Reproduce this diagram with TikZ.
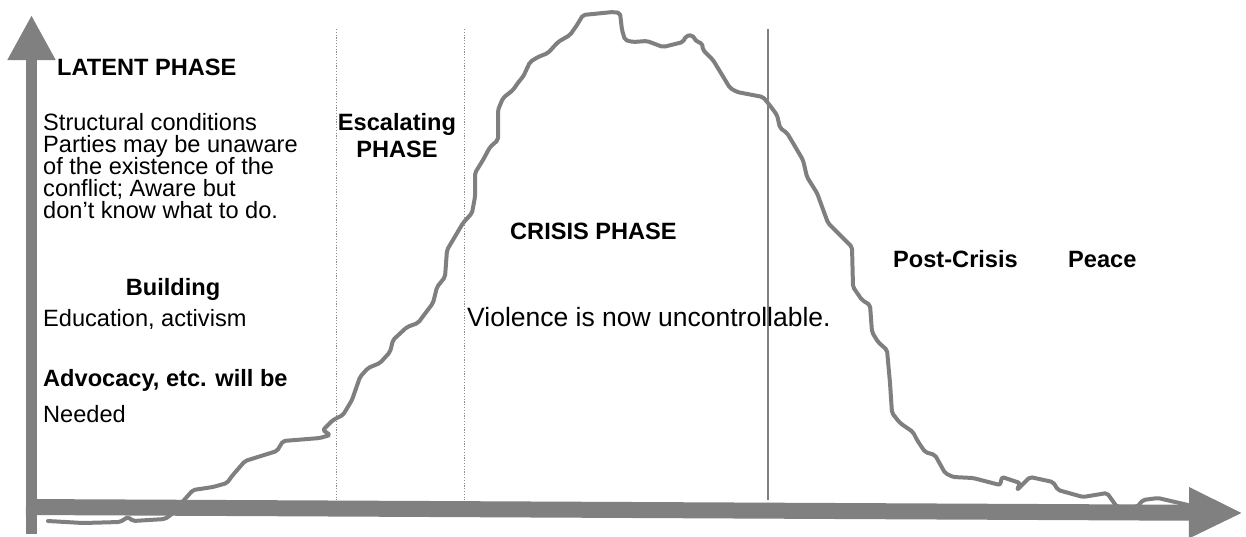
\documentclass[tikz,border=0pt]{standalone}
\usepackage{fontspec}
\setmainfont{Liberation Sans}
\usetikzlibrary{arrows.meta}
\definecolor{axisgray}{HTML}{808080}
\definecolor{curvegray}{HTML}{7F7F7F}
\definecolor{sepgray}{HTML}{8C8C8C}
\begin{document}
\begin{tikzpicture}[x=1pt,y=-1pt,
  txt/.style={inner sep=0pt, anchor=base west, font=\fontsize{23.6}{22}\selectfont},
  bt/.style={txt, font=\fontsize{23.6}{22}\selectfont\bfseries},
  sepline/.style={sepgray, line width=1pt, dash pattern=on 1.2pt off 1.6pt},
  solidsep/.style={axisgray, line width=1.6pt},
  curve/.style={curvegray, line width=4pt, line join=round, line cap=round, rounded corners=2pt},
  axis/.style={axisgray}]
\useasboundingbox (0,0) rectangle (1246,536);
% phase separators
\draw[sepline] (336,29) -- (336,500);
\draw[sepline] (464,29) -- (464,500);
\draw[solidsep] (768,29) -- (768,500);
% conflict curve
\draw[curve] (48,521) -- (83,523) -- (120,522) -- (128,517) -- (133,521) -- (165,519) -- (172,514)
  -- (185,499) -- (193,490) -- (213,487) -- (227,483) -- (232,476) -- (245,461) -- (277,451)
  -- (283,441) -- (320,438) -- (330,435) -- (323,430) -- (333,420) -- (343,415) -- (352,400)
  -- (360,377) -- (368,368) -- (380,363) -- (390,352) -- (393,340) -- (407,327) -- (418,323)
  -- (433,303) -- (437,287) -- (445,277) -- (447,250) -- (463,223) -- (472,213) -- (475,197)
  -- (475,173) -- (483,160) -- (490,147) -- (498,140) -- (498,110) -- (503,98) -- (513,90)
  -- (520,80) -- (523,77) -- (530,62) -- (538,57) -- (548,53) -- (558,42) -- (570,35)
  -- (577,25) -- (583,15) -- (613,12) -- (620,13) -- (622,30) -- (625,40) -- (633,42)
  -- (647,41) -- (663,47) -- (683,42) -- (686,36) -- (692,35) -- (697,42) -- (702,43)
  -- (703,50) -- (713,60) -- (730,88) -- (737,92) -- (763,97) -- (768,103) -- (777,115)
  -- (780,128) -- (787,133) -- (793,143) -- (803,160) -- (807,177) -- (817,193) -- (828,223)
  -- (852,247) -- (853,287) -- (862,300) -- (870,305) -- (872,332) -- (878,342) -- (887,350)
  -- (890,383) -- (892,413) -- (900,423) -- (913,432) -- (917,440) -- (925,452) -- (935,455)
  -- (945,473) -- (953,477) -- (973,478) -- (1000,485) -- (1002,477) -- (1020,483) -- (1017,490)
  -- (1030,477) -- (1053,482) -- (1058,490) -- (1083,497) -- (1107,493) -- (1117,507)
  -- (1137,507) -- (1143,500) -- (1158,498) -- (1188,505);
% axes
\draw[axis, line width=11pt, -{Triangle[length=45pt,width=45pt]}] (31.5,534) -- (31.5,15);
\draw[axis, line width=16pt, -{Triangle[length=54pt,width=47pt]}] (26,507) -- (1243,513);
% texts
\node[bt] (lat) at (57,75) {LATENT PHASE};
\node[txt] (s1) at (43,130) {Structural conditions};
\node[txt] (s2) at (43,152) {Parties may be unaware};
\node[txt] (s3) at (43,174) {of the existence of the};
\node[txt] (s4) at (43,196) {conflict; Aware but};
\node[txt] (s5) at (43,218) {don’t know what to do.};
\node[bt, anchor=base] (bld) at (173,295) {Building};
\node[txt] (edu) at (43,326) {Education, activism};
\node[bt] (adv) at (43,386) {Advocacy, etc. will be};
\node[txt] (need) at (43,422) {Needed};
\node[bt, anchor=base] (esc1) at (397,130) {Escalating};
\node[bt, anchor=base] (esc2) at (397,157) {PHASE};
\node[bt] (cri) at (510,239) {CRISIS PHASE};
\node[txt, font=\fontsize{26.5}{26}\selectfont] (vio) at (467,326) {Violence is now uncontrollable.};
\node[bt] (post) at (893,267) {Post-Crisis};
\node[bt] (peace) at (1068,267) {Peace};
\end{tikzpicture}
\end{document}
